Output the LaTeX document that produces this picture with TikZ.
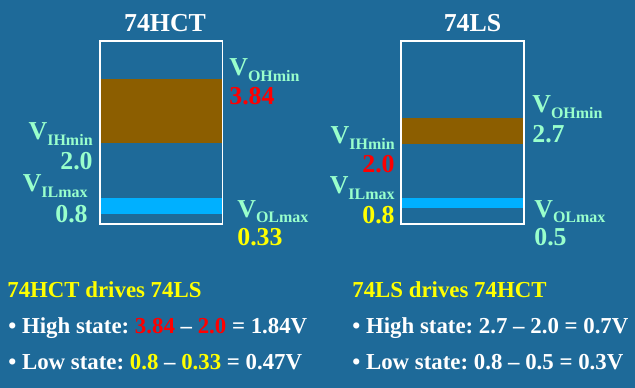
\documentclass[tikz,border=0pt]{standalone}
\usepackage{fontspec}
\setmainfont{Liberation Serif}
\usetikzlibrary{positioning}
\frenchspacing

\definecolor{slidebg}{RGB}{30,106,153}
\definecolor{highband}{RGB}{140,94,0}
\definecolor{lowband}{RGB}{0,176,255}
\definecolor{mint}{RGB}{153,255,204}
\definecolor{hotred}{RGB}{255,0,0}
\definecolor{hotyellow}{RGB}{255,255,0}

% lowered small text for the voltage names
\newcommand{\lowsub}[1]{\raisebox{-3.4pt}{\fontsize{9.1}{10}\selectfont #1}}

\begin{document}
\begin{tikzpicture}[
		x=0.02cm, y=-0.02cm,
		font=\bfseries,
		title/.style={white, font=\fontsize{14.7}{16}\selectfont\bfseries, inner sep=0pt},
		lbl/.style={mint, font=\fontsize{14.7}{16}\selectfont\bfseries, inner sep=0pt},
		textline/.style={white, font=\fontsize{13}{15}\selectfont\bfseries, inner sep=0pt, anchor=base west},
		levelbox/.style={white, line width=0.8pt}
		]
		
		% Background
		\fill[slidebg] (0,0) rectangle (635,388);
		\useasboundingbox (0,0) rectangle (635,388);
		
		% 74HCT levels
		\fill[highband] (100,79) rectangle (222.7,143);
		\fill[lowband] (100,198) rectangle (222.7,214);
		\draw[levelbox] (100,41) rectangle (222.7,224);
		\node[title, anchor=base] (hct) at (165,32) {74HCT};
		
		\node[lbl, anchor=base east] (hctih) at (93,140) {V\lowsub{IHmin}};
		\node[lbl, anchor=base east] (hctihv) at (93,170) {2.0};
		\node[lbl, anchor=base east] (hctil) at (88,192) {V\lowsub{ILmax}};
		\node[lbl, anchor=base east] (hctilv) at (88,222) {0.8};
		\node[lbl, anchor=base west] (hctoh) at (229,76) {V\lowsub{OHmin}};
		\node[lbl, anchor=base west, hotred] (hctohv) at (229,105) {3.84};
		\node[lbl, anchor=base west] (hctol) at (237,217) {V\lowsub{OLmax}};
		\node[lbl, anchor=base west, hotyellow] (hctolv) at (237,245) {0.33};
		
		% 74LS levels
		\fill[highband] (401,118) rectangle (524,144);
		\fill[lowband] (401,198) rectangle (524,208);
		\draw[levelbox] (401,41) rectangle (524,224);
		\node[title, anchor=base] (ls) at (472.5,32) {74LS};
		
		\node[lbl, anchor=base east] (lsih) at (395,144) {V\lowsub{IHmin}};
		\node[lbl, anchor=base east, hotred] (lsihv) at (395,173) {2.0};
		\node[lbl, anchor=base east] (lsil) at (395,194) {V\lowsub{ILmax}};
		\node[lbl, anchor=base east, hotyellow] (lsilv) at (395,223) {0.8};
		\node[lbl, anchor=base west] (lsoh) at (532,113) {V\lowsub{OHmin}};
		\node[lbl, anchor=base west] (lsohv) at (532,143) {2.7};
		\node[lbl, anchor=base west] (lsol) at (534,217) {V\lowsub{OLmax}};
		\node[lbl, anchor=base west] (lsolv) at (534,245) {0.5};
		
		% Noise margins
		\node[textline, hotyellow] (hctdrv) at (7,297) {74HCT drives 74LS};
		\node[textline] (hcthigh) at (8,333) {• High state: {\color{hotred}3.84} – {\color{hotred}2.0} = 1.84V};
		\node[textline] (hctlow) at (8,369) {• Low state: {\color{hotyellow}0.8} – {\color{hotyellow}0.33} = 0.47V};
		
		\node[textline, hotyellow] (lsdrv) at (352,297) {74LS drives 74HCT};
		\node[textline] (lshigh) at (352,333) {• High state: 2.7 – 2.0 = 0.7V};
		\node[textline] (lslow) at (352,369) {• Low state: 0.8 – 0.5 = 0.3V};
		
	\end{tikzpicture}
\end{document}
